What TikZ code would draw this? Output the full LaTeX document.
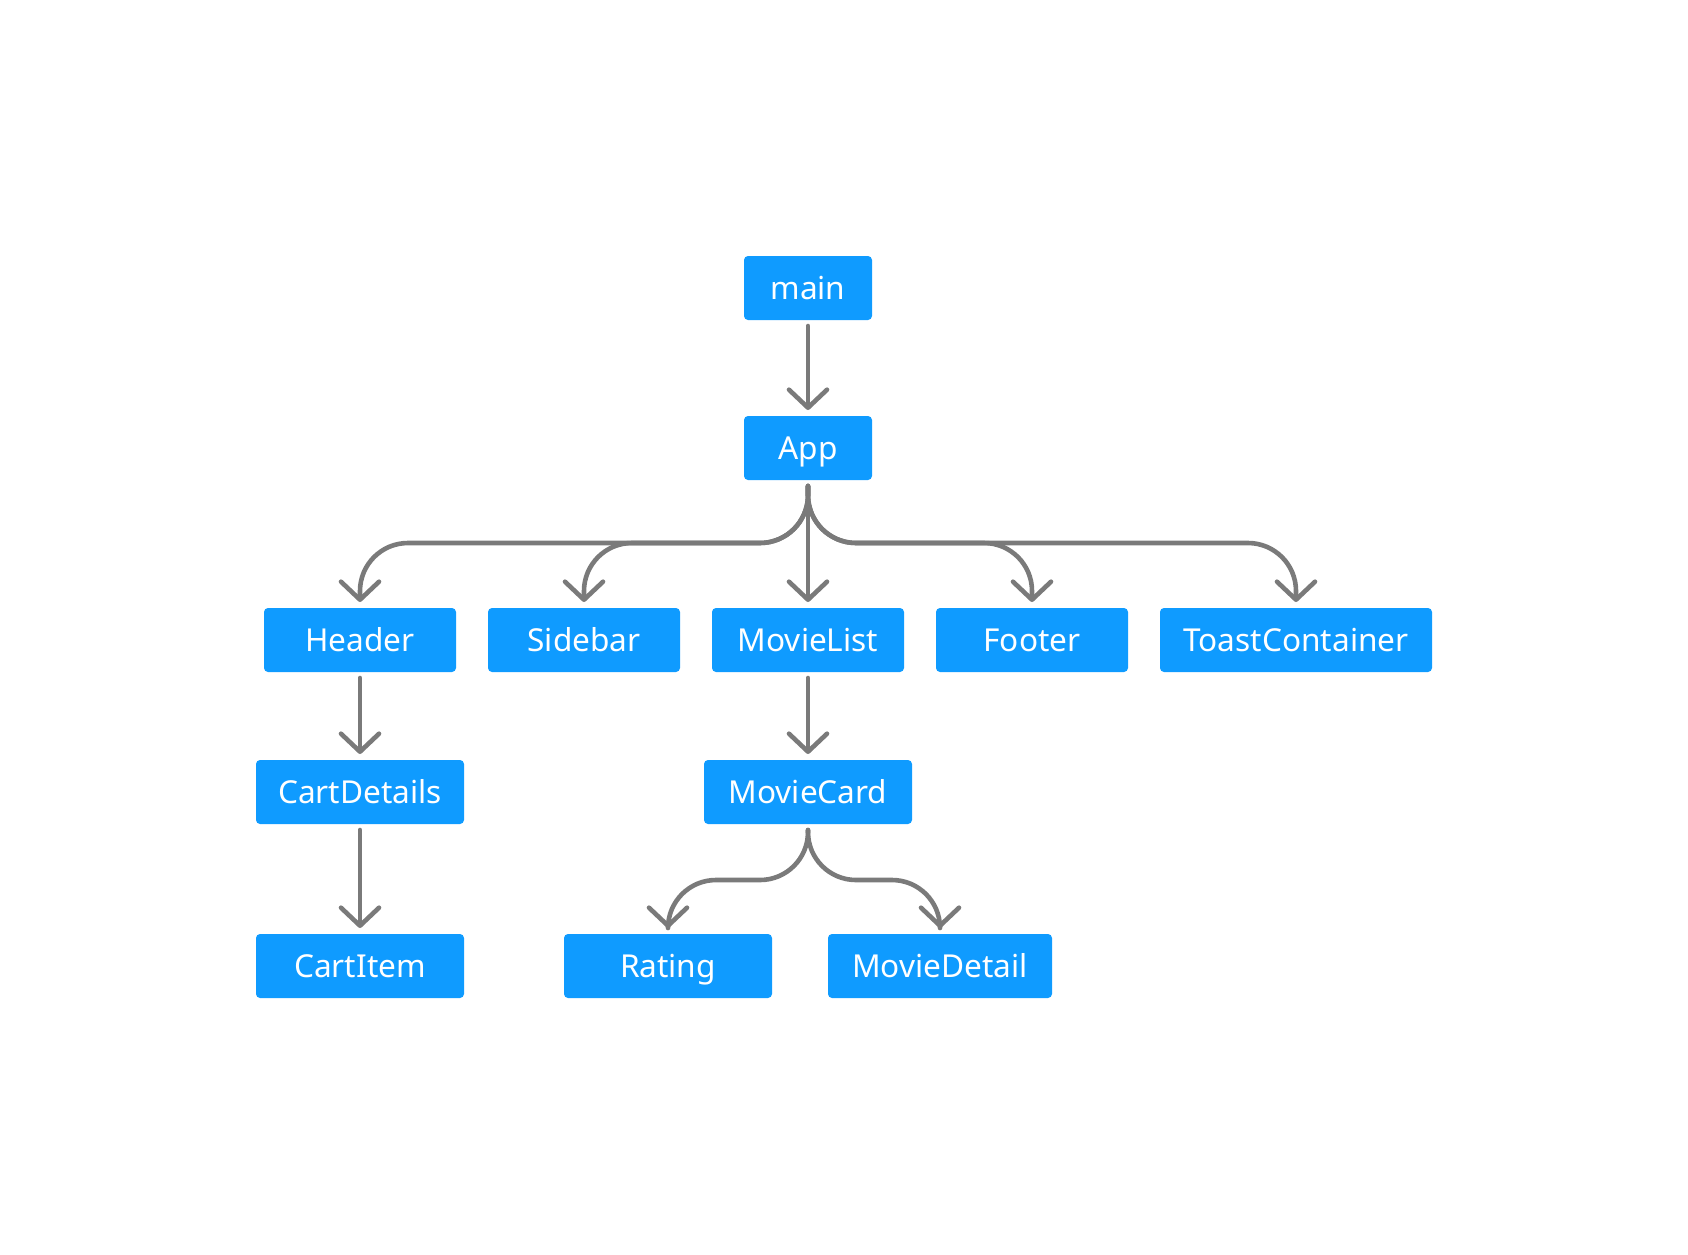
\documentclass[tikz,border=0pt]{standalone}
\usepackage{fontspec}
\setmainfont{Noto Sans}
\usetikzlibrary{
  arrows.meta,
  positioning,
}
\definecolor{boxblue}{RGB}{15, 155, 255}
\definecolor{linkgray}{RGB}{122, 122, 122}
\tikzset{
  comp/.style = {
    rectangle,
    rounded corners=2pt,
    fill=boxblue,
    text=white,
    inner sep=0pt,
    outer sep=0pt,
    minimum height=32pt,
    text height=11pt,
    text depth=0pt,
    font=\fontsize{15.8pt}{18pt}\selectfont,
  },
  link/.style = {
    draw=linkgray,
    line width=2.3pt,
    line cap=round,
    line join=round,
    -{Straight Barb[length=9pt,width=19pt,round]},
    shorten <=3pt,
    shorten >=3pt,
  },
  branch/.style = {link, rounded corners=24pt},
}

\begin{document}
\begin{tikzpicture}[x=0.5pt,y=-0.5pt,node distance=16pt and 16pt]
  \useasboundingbox (0,0) rectangle (1688,1254);

  % top of the tree
  \node[comp,minimum width=64pt] (main) at (808,288) {main};
  \node[comp,minimum width=64pt] (app) at (808,448) {App};

  % children of App
  \node[comp,minimum width=96pt] (header) at (360,640) {Header};
  \node[comp,minimum width=96pt] (sidebar) [right=of header] {Sidebar};
  \node[comp,minimum width=96pt] (movielist) [right=of sidebar] {MovieList};
  \node[comp,minimum width=96pt] (footer) [right=of movielist] {Footer};
  \node[comp,minimum width=136pt] (toast) [right=of footer] {ToastContainer};

  % lower levels
  \node[comp,minimum width=104pt] (cartdetails) at (360,792) {CartDetails};
  \node[comp,minimum width=104pt] (cartitem) at (360,966) {CartItem};
  \node[comp,minimum width=104pt] (moviecard) at (808,792) {MovieCard};
  \node[comp,minimum width=104pt] (rating) at (668,966) {Rating};
  \node[comp,minimum width=112pt] (moviedetail) [right=28pt of rating] {MovieDetail};

  \coordinate (bus) at (0,543);
  \coordinate (cardbus) at (0,880);

  \draw[link] (main.south) -- (app.north);
  \draw[link] (app.south) -- (movielist.north);
  \draw[branch] (app.south) -- (app.south |- bus) -- (header.north |- bus) -- (header.north);
  \draw[branch] (app.south) -- (app.south |- bus) -- (sidebar.north |- bus) -- (sidebar.north);
  \draw[branch] (app.south) -- (app.south |- bus) -- (footer.north |- bus) -- (footer.north);
  \draw[branch] (app.south) -- (app.south |- bus) -- (toast.north |- bus) -- (toast.north);

  \draw[link] (header.south) -- (cartdetails.north);
  \draw[link] (cartdetails.south) -- (cartitem.north);
  \draw[link] (movielist.south) -- (moviecard.north);
  \draw[branch] (moviecard.south) -- (moviecard.south |- cardbus) -- (rating.north |- cardbus) -- (rating.north);
  \draw[branch] (moviecard.south) -- (moviecard.south |- cardbus) -- (moviedetail.north |- cardbus) -- (moviedetail.north);
\end{tikzpicture}
\end{document}
